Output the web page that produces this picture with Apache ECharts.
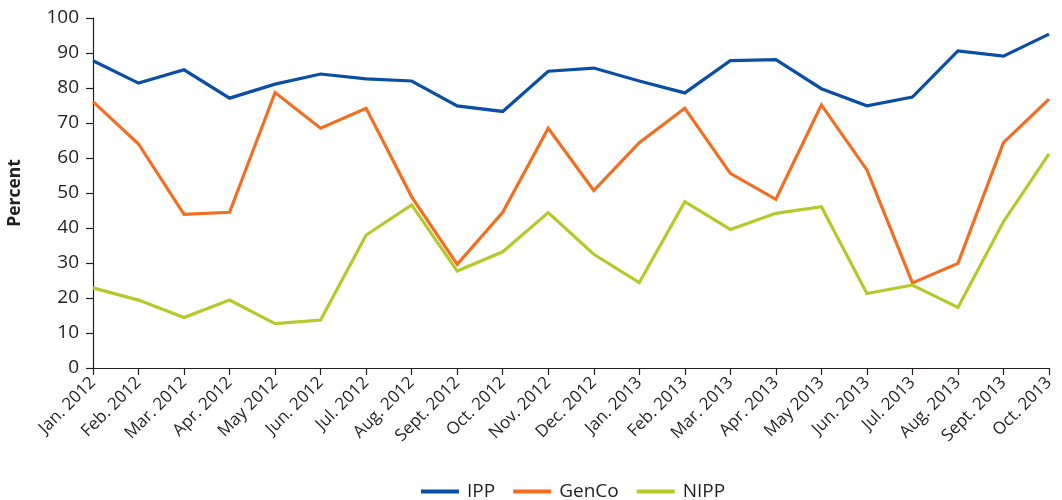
<!DOCTYPE html>
<html>
<head>
<meta charset="utf-8">
<script src="https://cdn.jsdelivr.net/npm/echarts@6/dist/echarts.min.js"></script>
<style>
  html, body { margin: 0; padding: 0; background: #fff; }
  #chart { width: 1062px; height: 500px; }
</style>
</head>
<body>
<div id="chart"></div>
<script>
// Monthly share (percent) by producer type, Jan. 2012 – Oct. 2013
const months = [
  'Jan. 2012', 'Feb. 2012', 'Mar. 2012', 'Apr. 2012', 'May 2012', 'Jun. 2012',
  'Jul. 2012', 'Aug. 2012', 'Sept. 2012', 'Oct. 2012', 'Nov. 2012', 'Dec. 2012',
  'Jan. 2013', 'Feb. 2013', 'Mar. 2013', 'Apr. 2013', 'May 2013', 'Jun. 2013',
  'Jul. 2013', 'Aug. 2013', 'Sept. 2013', 'Oct. 2013'
];
const ipp = [87.8, 81.4, 85.2, 77.1, 81.1, 84.0, 82.6, 82.0, 74.9, 73.3, 84.8, 85.7,
  82.0, 78.6, 87.8, 88.1, 79.8, 74.9, 77.4, 90.6, 89.1, 95.4];
const genco = [76.1, 64.0, 43.9, 44.5, 78.7, 68.5, 74.2, 48.9, 29.6, 44.5, 68.5, 50.7,
  64.4, 74.2, 55.6, 48.2, 75.2, 56.6, 24.3, 29.9, 64.4, 76.8];
const nipp = [22.9, 19.4, 14.4, 19.4, 12.7, 13.7, 38.0, 46.6, 27.7, 33.2, 44.4, 32.5,
  24.4, 47.5, 39.6, 44.2, 46.1, 21.3, 23.7, 17.3, 41.8, 61.2];

const FONT = '"Open Sans", "Noto Sans", sans-serif';
const AXIS_COLOR = '#231f20';

const chart = echarts.init(document.getElementById('chart'), null, { renderer: 'canvas' });

function lineSeries(name, data, color) {
  return {
    name: name,
    type: 'line',
    data: data,
    symbol: 'none',
    lineStyle: { color: color, width: 3.2, join: 'miter' },
    itemStyle: { color: color },
    emphasis: { disabled: true }
  };
}

chart.setOption({
  animation: false,
  textStyle: { fontFamily: FONT },
  grid: {
    left: 93, right: 13, top: 18, bottom: 132,
    containLabel: false,
    outerBoundsMode: 'none'
  },
  legend: {
    top: 477,
    left: 416,
    itemWidth: 38,
    itemHeight: 4,
    itemGap: 18,
    icon: 'rect',
    textStyle: { fontFamily: FONT, fontSize: 19, color: AXIS_COLOR, padding: [0, 0, 0, 3] },
    data: ['IPP', 'GenCo', 'NIPP']
  },
  xAxis: {
    type: 'category',
    data: months,
    boundaryGap: false,
    axisLine: { lineStyle: { color: AXIS_COLOR, width: 1.2 } },
    axisTick: { show: true, length: 7, alignWithLabel: true, lineStyle: { color: AXIS_COLOR, width: 1.2 } },
    axisLabel: {
      interval: 0,
      rotate: 45,
      margin: 12,
      fontFamily: FONT,
      fontSize: 17,
      color: AXIS_COLOR
    },
    splitLine: { show: false }
  },
  yAxis: {
    type: 'value',
    min: 0,
    max: 100,
    interval: 10,
    name: 'Percent',
    nameLocation: 'middle',
    nameGap: 69,
    nameRotate: 90,
    nameTextStyle: { fontFamily: FONT, fontSize: 17.5, fontWeight: 'bold', color: AXIS_COLOR },
    axisLine: { show: true, lineStyle: { color: AXIS_COLOR, width: 1.2 } },
    axisTick: { show: true, length: 7, lineStyle: { color: AXIS_COLOR, width: 1.2 } },
    axisLabel: { margin: 14, fontFamily: FONT, fontSize: 19, color: AXIS_COLOR },
    splitLine: { show: false }
  },
  series: [
    lineSeries('IPP', ipp, '#0a4fa3'),
    lineSeries('GenCo', genco, '#f26f21'),
    lineSeries('NIPP', nipp, '#b5c928')
  ]
});
</script>
</body>
</html>
